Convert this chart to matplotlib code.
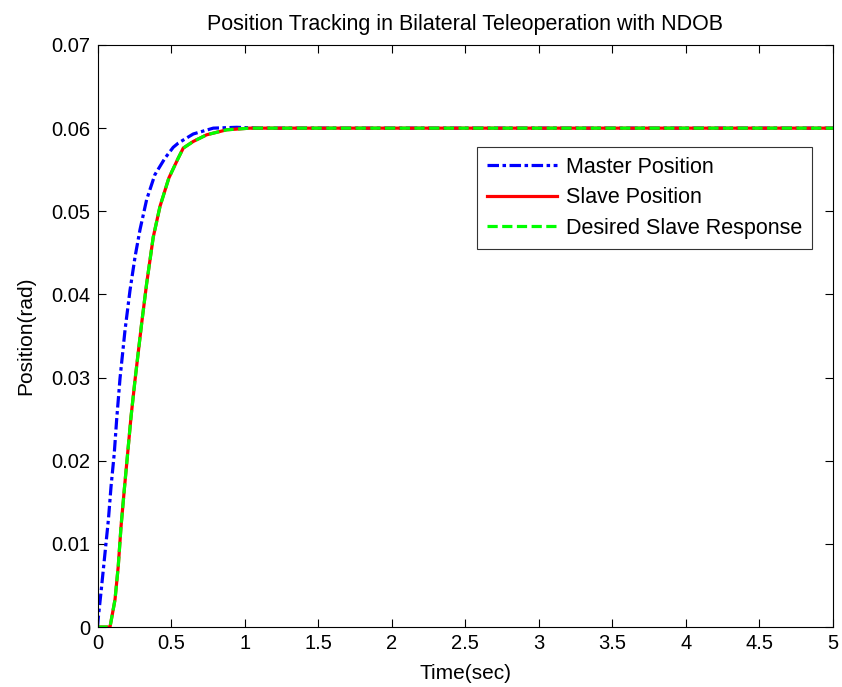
import numpy as np
import matplotlib.pyplot as plt

plt.rcParams['font.family'] = ['Liberation Sans', 'DejaVu Sans']

# master response (time in sec, position in rad)
t_master = [0.0, 0.005, 0.028, 0.051, 0.074, 0.092, 0.114, 0.13, 0.153, 0.187, 0.221,
            0.255, 0.289, 0.334, 0.39, 0.459, 0.515, 0.549, 0.651, 0.787, 0.946, 1.1, 5.0]
y_master = [0.0, 0.00105, 0.0049, 0.0089, 0.0129, 0.0169, 0.0209, 0.0249, 0.0299, 0.0357, 0.0405,
            0.0445, 0.0478, 0.0514, 0.0544, 0.0564, 0.0577, 0.0582, 0.0593, 0.0600, 0.0601, 0.0600, 0.0600]

# slave response
t_slave = [0.0, 0.085, 0.119, 0.141, 0.16, 0.182, 0.205, 0.228, 0.255, 0.3, 0.334,
           0.379, 0.425, 0.485, 0.549, 0.583, 0.651, 0.742, 0.878, 1.036, 5.0]
y_slave = [0.0, 0.0, 0.0033, 0.0073, 0.0121, 0.0165, 0.0209, 0.0253, 0.0297, 0.0365, 0.0413,
           0.0469, 0.0506, 0.0540, 0.0564, 0.0576, 0.0584, 0.0592, 0.0598, 0.0600, 0.0600]

# desired slave response (lies on top of the slave curve)
t_desired = [0.0, 0.085, 0.119, 0.141, 0.16, 0.182, 0.205, 0.228, 0.255, 0.3, 0.334,
             0.379, 0.425, 0.485, 0.549, 0.583, 0.651, 0.742, 0.878, 1.036, 5.0]
y_desired = [0.0, 0.0, 0.0033, 0.0073, 0.0121, 0.0165, 0.0209, 0.0253, 0.0297, 0.0365, 0.0413,
             0.0469, 0.0506, 0.0540, 0.0564, 0.0576, 0.0584, 0.0592, 0.0598, 0.0600, 0.0600]

fig = plt.figure(figsize=(8.42, 6.87), dpi=100)
ax = fig.add_axes([0.1158, 0.0873, 0.8735, 0.8472])

ax.plot(t_master, y_master, color='#0000ff', lw=2.3, linestyle=(0, (3.6, 1.1, 1.1, 1.1)),
        label='Master Position')
ax.plot(t_slave, y_slave, color='#ff0000', lw=2.3, label='Slave Position')
ax.plot(t_desired, y_desired, color='#00ff00', lw=2.3, linestyle=(0, (3.2, 1.4)),
        label='Desired Slave Response')

ax.set_xlim(0, 5)
ax.set_ylim(0, 0.07)
ax.set_xticks(np.arange(0, 5.01, 0.5))
ax.set_xticklabels(['0', '0.5', '1', '1.5', '2', '2.5', '3', '3.5', '4', '4.5', '5'])
ax.set_yticks(np.arange(0, 0.0701, 0.01))
ax.set_yticklabels(['0', '0.01', '0.02', '0.03', '0.04', '0.05', '0.06', '0.07'])
ax.tick_params(direction='in', top=True, right=True, labelsize=14.5, length=6, width=0.8, pad=5)
for s in ax.spines.values():
    s.set_linewidth(0.8)

ax.set_xlabel('Time(sec)', fontsize=15, labelpad=8)
ax.set_ylabel('Position(rad)', fontsize=15, labelpad=12)
ax.set_title('Position Tracking in Bilateral Teleoperation with NDOB', fontsize=15.5, pad=11)

leg = ax.legend(loc='upper right', bbox_to_anchor=(0.9715, 0.825), borderaxespad=0,
                fontsize=15.5, fancybox=False, edgecolor='#333333', framealpha=1,
                handlelength=3.25, handletextpad=0.42, borderpad=0.45, labelspacing=0.45)
leg.get_frame().set_linewidth(0.8)

fig.savefig('out.png', dpi=100)
